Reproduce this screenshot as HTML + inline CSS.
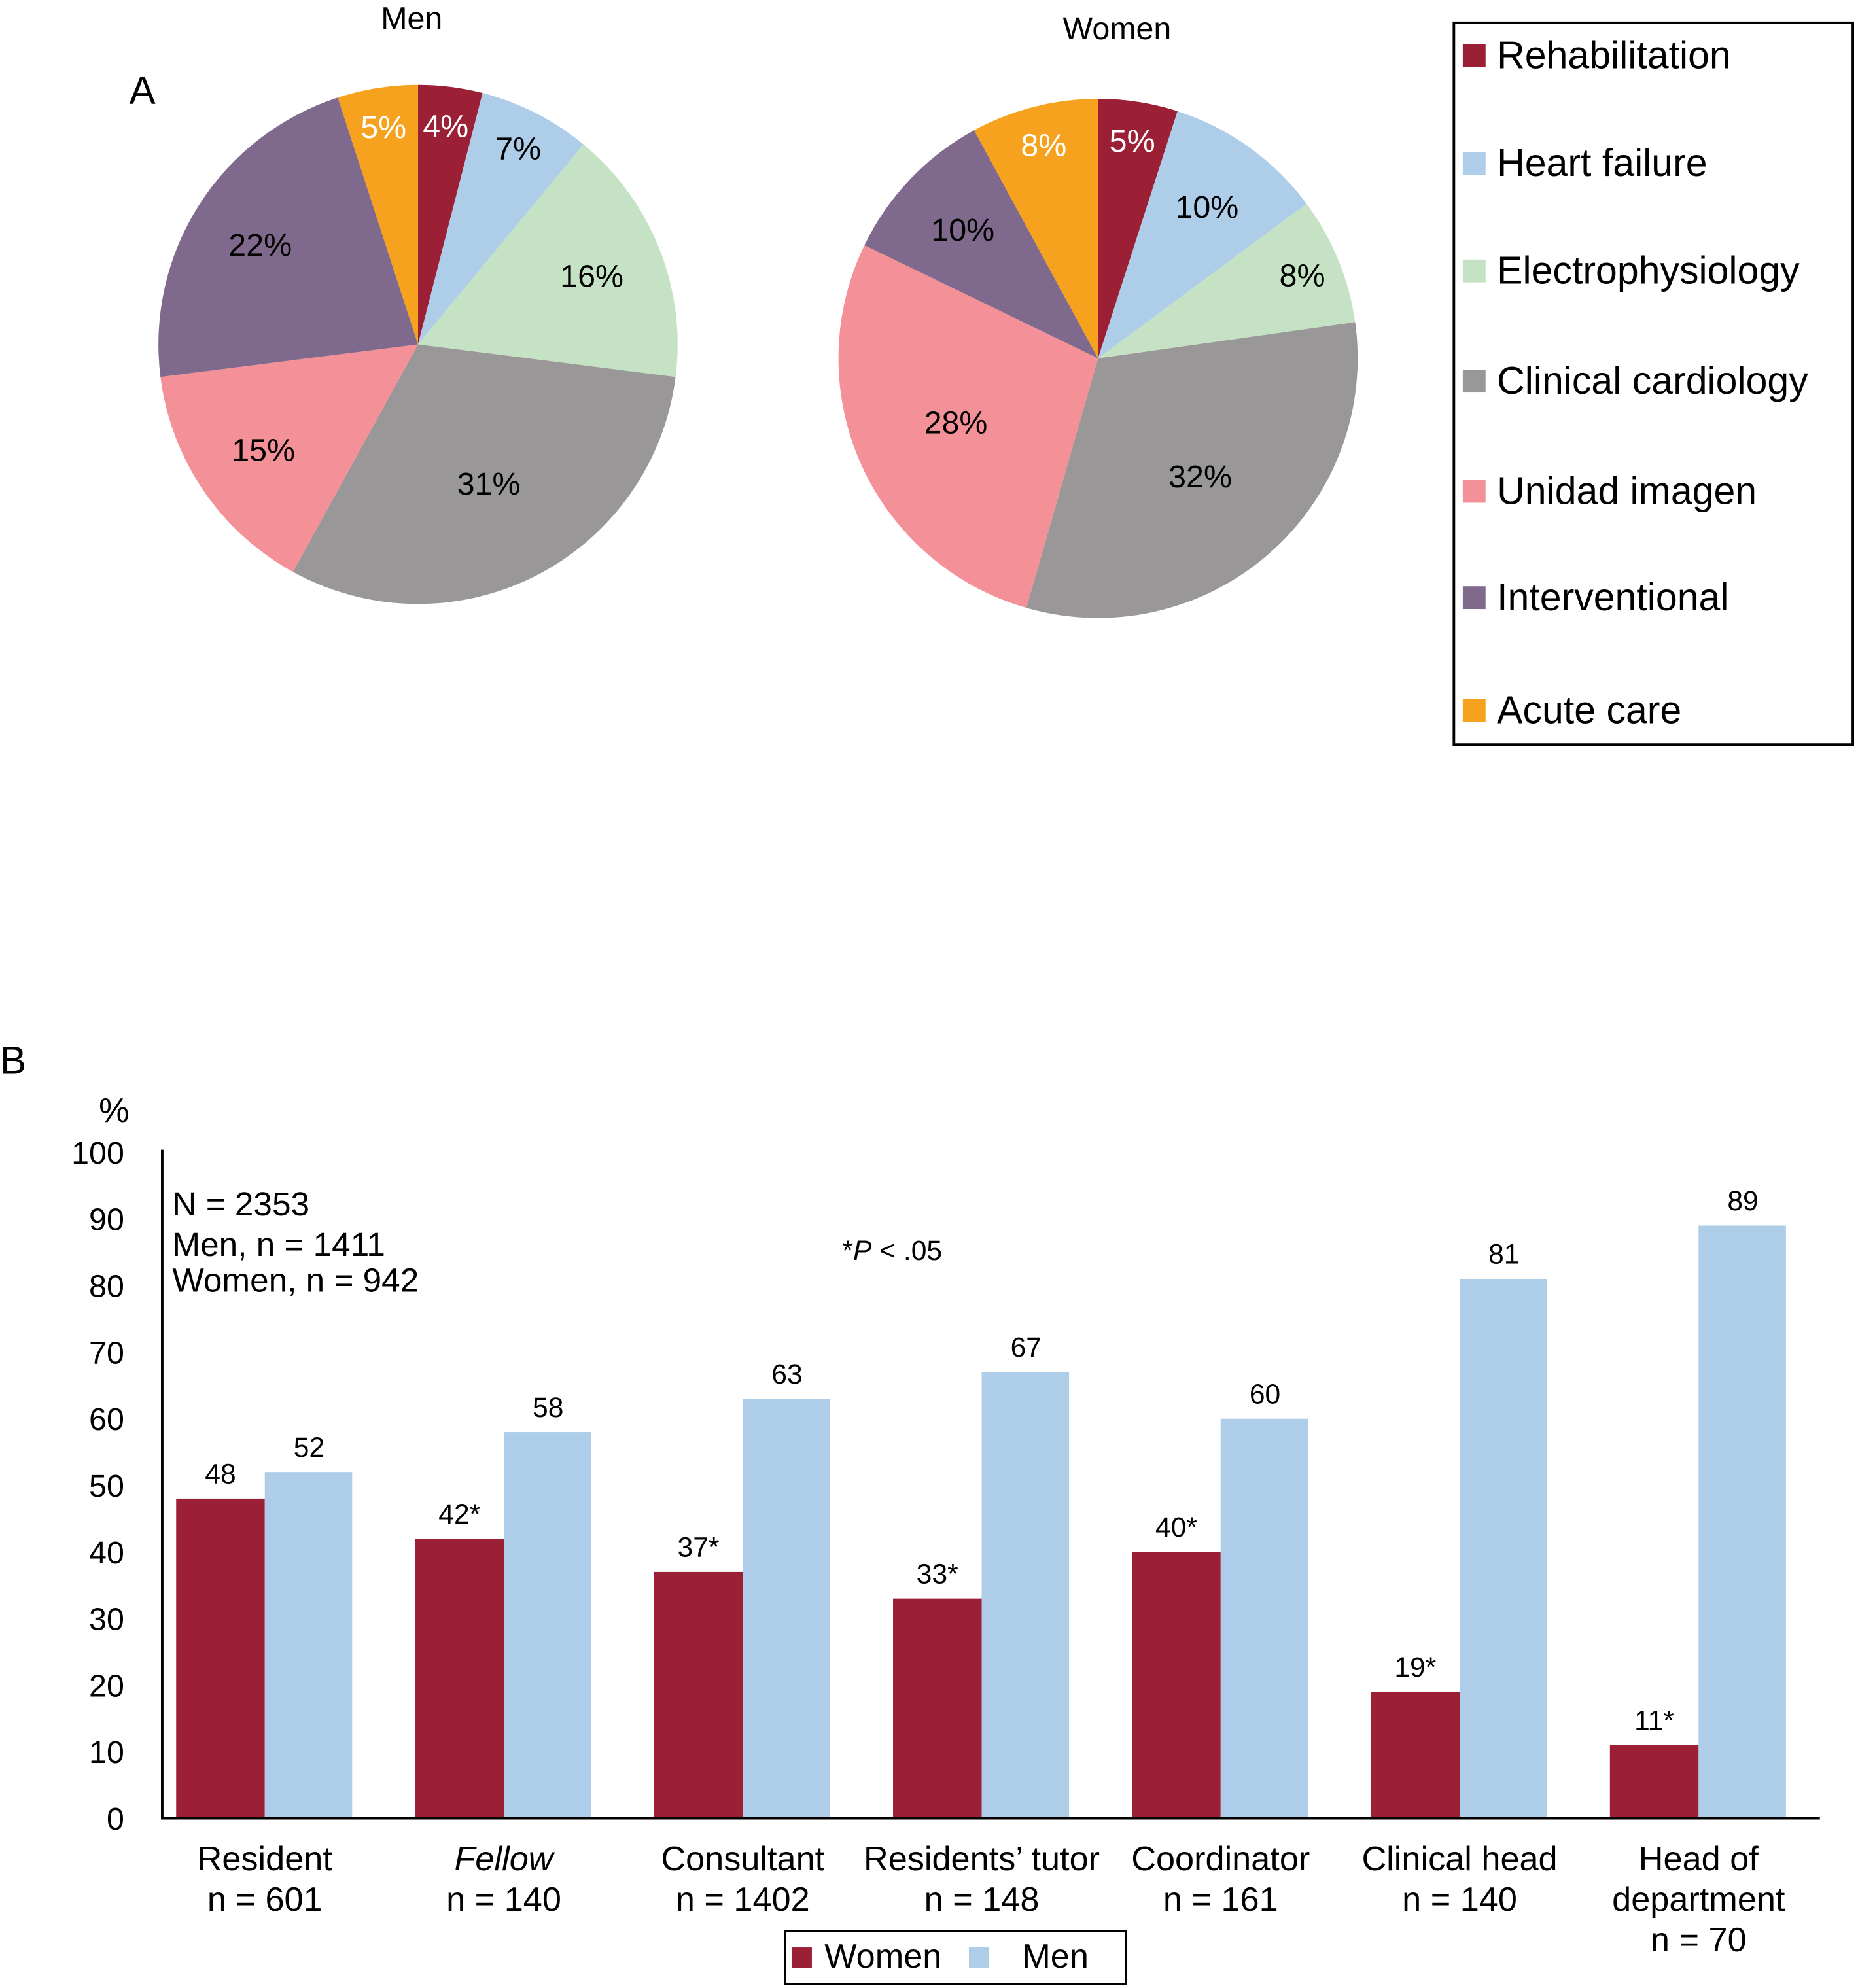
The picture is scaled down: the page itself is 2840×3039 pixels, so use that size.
<!DOCTYPE html>
<html><head><meta charset="utf-8"><style>
html,body{margin:0;padding:0;background:#fff;}
svg{display:block;font-family:"Liberation Sans",Arial,sans-serif;}
</style></head><body>
<svg id="fig" width="2840" height="3039" viewBox="0 0 1467 1570">
<text x="102" y="82" font-size="31">A</text>
<text x="325" y="23" font-size="25" text-anchor="middle">Men</text>
<text x="882" y="31" font-size="25" text-anchor="middle">Women</text>
<g id="pies"></g>
<rect x="1148" y="18" width="315" height="570" fill="none" stroke="#000" stroke-width="2"/>
<g id="pielegend"></g>
<text x="0" y="848" font-size="31">B</text>
<text x="90" y="886" font-size="27" text-anchor="middle">%</text>
<text x="136" y="960" font-size="26.5">N = 2353</text>
<text x="136" y="992" font-size="26.5">Men, n = 1411</text>
<text x="136" y="1020" font-size="26.5">Women, n = 942</text>
<text x="665" y="995" font-size="22">*<tspan font-style="italic">P</tspan> &lt; .05</text>
<g id="bars"></g>
<line x1="128" y1="908" x2="128" y2="1437" stroke="#000" stroke-width="2"/>
<line x1="127" y1="1436" x2="1437" y2="1436" stroke="#000" stroke-width="2"/>
<rect x="620" y="1525" width="269" height="42" fill="none" stroke="#000" stroke-width="1.5"/>
<rect x="625" y="1538" width="16" height="16" fill="#9b1f35"/>
<text x="651" y="1554" font-size="27">Women</text>
<rect x="765" y="1538" width="16" height="16" fill="#aecde9"/>
<text x="807" y="1554" font-size="27">Men</text>
</svg>
<script>
const NS="http://www.w3.org/2000/svg";
const sliceNames=["Rehabilitation","Heart failure","Electrophysiology","Clinical cardiology","Unidad imagen","Interventional","Acute care"];
const sliceColors=["#9b1f35","#aecde9","#c5e3c4","#999797","#f49097","#7f6a8d","#f6a21e"];
const menPct=[4,7,16,31,15,22,5];
const womenPct=[5,10,8,32,28,10,8];
const categories=["Resident","Fellow","Consultant","Residents\u2019 tutor","Coordinator","Clinical head","Head of department"];
const catN=["n = 601","n = 140","n = 1402","n = 148","n = 161","n = 140","n = 70"];
const womenVals=[48,42,37,33,40,19,11];
const menVals=[52,58,63,67,60,81,89];
const womenSig=[false,true,true,true,true,true,true];
const yTicks=[0,10,20,30,40,50,60,70,80,90,100];
function mk(t,a,p){const e=document.createElementNS(NS,t);for(const k in a)e.setAttribute(k,a[k]);(p||document.getElementById('fig')).appendChild(e);return e;}
function pie(cx,cy,r,vals,key){
 const g=document.getElementById('pies');const tot=vals.reduce((a,b)=>a+b,0);let acc=0;
 vals.forEach((v,i)=>{
  const a0=acc/tot*2*Math.PI;acc+=v;const a1=acc/tot*2*Math.PI;
  const x0=cx+r*Math.sin(a0),y0=cy-r*Math.cos(a0),x1=cx+r*Math.sin(a1),y1=cy-r*Math.cos(a1);
  const p=mk('path',{d:`M${cx},${cy}L${x0},${y0}A${r},${r} 0 ${a1-a0>Math.PI?1:0} 1 ${x1},${y1}Z`,fill:sliceColors[i]},g);
  
  
  const am=(a0+a1)/2;const rf=v<9?0.85:(v>25?0.6:0.72);
  const t=mk('text',{x:cx+r*rf*Math.sin(am),y:cy-r*rf*Math.cos(am)+9,'font-size':25,'text-anchor':'middle',fill:(i==0||i==6)?'#fff':'#000'},g);
  t.textContent=v+'%';
  
  
 });
}
pie(330,272,205,menPct,'men');
pie(867,283,205,womenPct,'women');
const lg=document.getElementById('pielegend');
const ly=[44,129,214,301,388,472,561];
sliceNames.forEach((n,i)=>{
 const s=mk('rect',{x:1155,y:ly[i]-9,width:18,height:18,fill:sliceColors[i]},lg);
 
 
 const t=mk('text',{x:1182,y:ly[i]+10,'font-size':30.5},lg);t.textContent=n;
 
 
});
const y=v=>1436-v*5.26;
const cx=i=>209+i*188.7;
const bg=document.getElementById('bars');
yTicks.forEach(v=>{const t=mk('text',{x:98,y:y(v)+9,'font-size':25,'text-anchor':'end'},bg);t.textContent=v;
 
 });
categories.forEach((c,i)=>{
 const w=mk('rect',{x:cx(i)-70,y:y(womenVals[i]),width:70,height:womenVals[i]*5.26,fill:'#9b1f35'},bg);
 
 
 const m=mk('rect',{x:cx(i),y:y(menVals[i]),width:69,height:menVals[i]*5.26,fill:'#aecde9'},bg);
 
 
 const tw=mk('text',{x:cx(i)-35,y:y(womenVals[i])-12,'font-size':22,'text-anchor':'middle'},bg);tw.textContent=womenVals[i]+(womenSig[i]?'*':'');
 
 
 const tm=mk('text',{x:cx(i)+35,y:y(menVals[i])-12,'font-size':22,'text-anchor':'middle'},bg);tm.textContent=menVals[i];
 
 
 const lines=c==="Head of department"?["Head of","department",catN[i]]:[c,catN[i]];
 lines.forEach((l,j)=>{const t=mk('text',{x:cx(i),y:1477+j*32,'font-size':27,'text-anchor':'middle'},bg);t.textContent=l;
  if(c==="Fellow"&&j==0)t.setAttribute('font-style','italic');
  
  });
});
</script>
</body></html>
